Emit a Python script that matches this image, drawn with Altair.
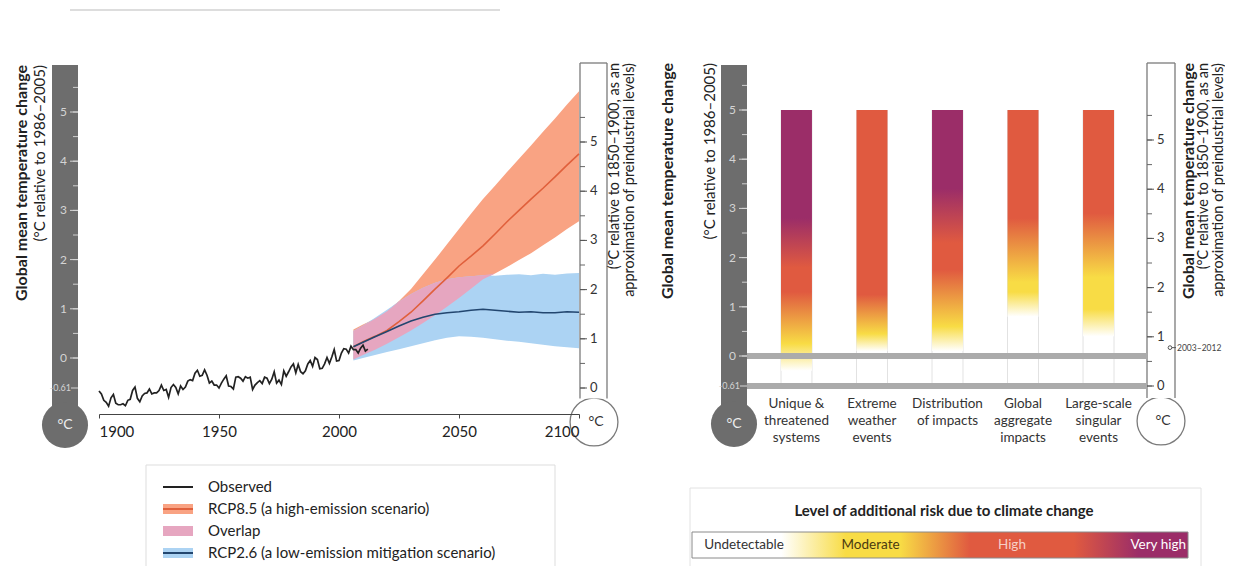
import math
import altair as alt
import pandas as pd
import numpy as np

FONT = "Lato"

# ---------------- data ----------------
obs_years = list(range(1900, 2013))
obs_anomaly = [
    -0.67, -0.73, -0.86, -0.90, -0.98, -0.81, -0.74, -0.92, -0.95, -0.95,
    -0.93, -0.97, -0.86, -0.84, -0.66, -0.59, -0.82, -0.89, -0.77, -0.72,
    -0.71, -0.63, -0.73, -0.71, -0.71, -0.66, -0.55, -0.66, -0.64, -0.80,
    -0.60, -0.54, -0.60, -0.73, -0.57, -0.64, -0.59, -0.47, -0.44, -0.46,
    -0.31, -0.25, -0.37, -0.35, -0.24, -0.35, -0.51, -0.47, -0.55, -0.55,
    -0.61, -0.51, -0.43, -0.36, -0.57, -0.58, -0.63, -0.39, -0.38, -0.41,
    -0.47, -0.38, -0.41, -0.39, -0.64, -0.55, -0.50, -0.46, -0.52, -0.39,
    -0.41, -0.52, -0.43, -0.28, -0.51, -0.45, -0.54, -0.26, -0.37, -0.28,
    -0.18, -0.12, -0.30, -0.13, -0.28, -0.32, -0.26, -0.12, -0.05, -0.17,
    0.01, -0.03, -0.22, -0.21, -0.12, 0.01, -0.11, 0.02, 0.17, -0.06,
    -0.05, 0.10, 0.19, 0.18, 0.10, 0.24, 0.17, 0.17, 0.10, 0.20,
    0.26, 0.14, 0.18,
]

proj_years = [2006, 2010, 2015, 2020, 2025, 2030, 2035, 2040, 2045, 2050,
              2055, 2060, 2065, 2070, 2075, 2080, 2085, 2090, 2095, 2100]
rcp85_mean = [0.23, 0.33, 0.44, 0.56, 0.74, 0.93, 1.16, 1.40, 1.63, 1.87,
              2.07, 2.28, 2.52, 2.77, 3.00, 3.23, 3.45, 3.68, 3.92, 4.15]
rcp85_high = [0.58, 0.68, 0.80, 0.95, 1.16, 1.40, 1.70, 2.00, 2.31, 2.62,
              2.93, 3.23, 3.50, 3.78, 4.05, 4.32, 4.60, 4.87, 5.15, 5.42]
rcp85_low = [-0.03, 0.06, 0.17, 0.29, 0.42, 0.56, 0.71, 0.87, 1.04, 1.22,
             1.41, 1.60, 1.72, 1.85, 1.99, 2.13, 2.29, 2.45, 2.62, 2.78]
rcp26_mean = [0.23, 0.32, 0.43, 0.54, 0.65, 0.75, 0.83, 0.89, 0.92, 0.94,
              0.97, 0.99, 0.97, 0.95, 0.93, 0.94, 0.92, 0.92, 0.94, 0.93]
rcp26_high = [0.55, 0.66, 0.82, 0.98, 1.15, 1.30, 1.43, 1.53, 1.60, 1.64,
              1.66, 1.68, 1.67, 1.69, 1.70, 1.68, 1.71, 1.69, 1.72, 1.73]
rcp26_low = [-0.05, 0.00, 0.06, 0.12, 0.18, 0.24, 0.30, 0.36, 0.41, 0.44,
             0.43, 0.41, 0.38, 0.35, 0.33, 0.30, 0.27, 0.24, 0.22, 0.20]

year_ticks = [1900, 1950, 2000, 2050, 2100]
scale_labels = [0, 1, 2, 3, 4, 5]
scale_half_ticks = [0, 0.5, 1, 1.5, 2, 2.5, 3, 3.5, 4, 4.5, 5, 5.5]
preindustrial_offset = 0.61   # 1986-2005 vs 1850-1900

risk_categories = ["Unique &\nthreatened\nsystems", "Extreme\nweather\nevents",
                   "Distribution\nof impacts", "Global\naggregate\nimpacts",
                   "Large-scale\nsingular\nevents"]
risk_top = 5.0
risk_transitions = [
    [(-0.30, "Undetectable"), (0.25, "Moderate"), (1.30, "High"), (1.80, "High"), (2.80, "Very high")],
    [(0.10, "Undetectable"), (0.45, "Moderate"), (1.25, "High")],
    [(0.10, "Undetectable"), (0.60, "Moderate"), (1.75, "High"), (2.30, "High"), (3.40, "Very high")],
    [(0.80, "Undetectable"), (1.30, "Moderate"), (1.50, "Moderate"), (2.80, "High")],
    [(0.40, "Undetectable"), (0.95, "Moderate"), (1.60, "Moderate"), (2.90, "High")],
]
observed_period = "2003–2012"
observed_period_warming = 0.78  # relative to 1850-1900

risk_levels = ["Undetectable", "Moderate", "High", "Very high"]
risk_level_centers = [0.105, 0.36, 0.645, 0.94]
risk_legend_stops = [(0.0, "Undetectable"), (0.18, "Undetectable"), (0.31, "Moderate"),
                     (0.42, "Moderate"), (0.56, "High"), (0.77, "High"),
                     (0.90, "Very high"), (1.0, "Very high")]

legend_labels = ["Observed", "RCP8.5 (a high-emission scenario)", "Overlap",
                 "RCP2.6 (a low-emission mitigation scenario)"]

# ---------------- styles ----------------
LEVEL_COLOR = {"Undetectable": "#ffffff", "Moderate": "#f8dc45",
               "High": "#e05a40", "Very high": "#9b2d68"}
C85_BAND = "#f9a383"
C26_BAND = "#acd3f3"
C_OVER = "#e6a6c0"
C85_LINE = "#e0603c"
C26_LINE = "#22466f"
C_OBS = "#222222"
GRAY = "#6d6d6d"
OUT = "#7a7a7a"
TXT = "#222222"


def one():
    return pd.DataFrame({"k": [0]})


def gray_thermometer(x0, x1, top, cx, cy, r, ysc):
    base = alt.Chart(one())
    layers = [
        base.mark_rect(color=GRAY).encode(x=alt.value(x0), x2=alt.value(x1),
                                          y=alt.value(top), y2=alt.value(cy)),
        base.mark_circle(color=GRAY, opacity=1).encode(
            x=alt.value(cx), y=alt.value(cy), size=alt.value(math.pi * r * r)),
        base.mark_text(text="°C", color="#eeeeee", fontSize=14, font=FONT).encode(
            x=alt.value(cx), y=alt.value(cy)),
    ]
    half = pd.DataFrame({"v": scale_half_ticks})
    layers.append(alt.Chart(half).mark_rule(color="#cfcfcf", strokeWidth=1).encode(
        y=alt.Y("v:Q", scale=ysc, axis=None), x=alt.value(x1 - 5), x2=alt.value(x1)))
    ints = pd.DataFrame({"v": scale_labels, "t": [str(v) for v in scale_labels]})
    layers.append(alt.Chart(ints).mark_rule(color="#d6d6d6", strokeWidth=1).encode(
        y=alt.Y("v:Q", scale=ysc, axis=None), x=alt.value(x1 - 8), x2=alt.value(x1)))
    layers.append(alt.Chart(ints).mark_text(align="right", baseline="middle", fontSize=12,
                                            font=FONT, color="#d4d4d4").encode(
        y=alt.Y("v:Q", scale=ysc, axis=None), x=alt.value(x1 - 11), text="t:N"))
    base_df = pd.DataFrame({"v": [-preindustrial_offset], "t": [f"-{preindustrial_offset:.2f}"]})
    layers.append(alt.Chart(base_df).mark_rule(color="#d6d6d6", strokeWidth=1).encode(
        y=alt.Y("v:Q", scale=ysc, axis=None), x=alt.value(x1 - 7), x2=alt.value(x1)))
    layers.append(alt.Chart(base_df).mark_text(align="right", baseline="middle", fontSize=9,
                                               font=FONT, color="#d4d4d4").encode(
        y=alt.Y("v:Q", scale=ysc, axis=None), x=alt.value(x1 - 7), text="t:N"))
    return layers


def outline_thermometer(x0, x1, top, cx, cy, r, ysc):
    base = alt.Chart(one())
    half_w = (x1 - x0) / 2
    yjoin = cy - math.sqrt(r * r - half_w * half_w)
    layers = [
        base.mark_circle(fill="white", stroke=OUT, strokeWidth=1.3, opacity=1).encode(
            x=alt.value(cx), y=alt.value(cy), size=alt.value(math.pi * r * r)),
        base.mark_rect(color="white").encode(x=alt.value(x0), x2=alt.value(x1),
                                             y=alt.value(top), y2=alt.value(yjoin)),
        base.mark_rule(color=OUT, strokeWidth=1.3).encode(
            x=alt.value(x0), y=alt.value(top), y2=alt.value(yjoin)),
        base.mark_rule(color=OUT, strokeWidth=1.3).encode(
            x=alt.value(x1), y=alt.value(top), y2=alt.value(yjoin)),
        base.mark_rule(color=OUT, strokeWidth=1.3).encode(
            x=alt.value(x0), x2=alt.value(x1), y=alt.value(top)),
        base.mark_text(text="°C", color="#333333", fontSize=14, font=FONT).encode(
            x=alt.value(cx + 2), y=alt.value(cy)),
    ]
    half = pd.DataFrame({"r": scale_half_ticks})
    layers.append(alt.Chart(half).transform_calculate(
        v=f"datum.r - {preindustrial_offset}").mark_rule(color="#666666", strokeWidth=1).encode(
        y=alt.Y("v:Q", scale=ysc, axis=None), x=alt.value(x0), x2=alt.value(x0 + 5)))
    ints = pd.DataFrame({"r": scale_labels, "t": [str(v) for v in scale_labels]})
    layers.append(alt.Chart(ints).transform_calculate(
        v=f"datum.r - {preindustrial_offset}").mark_rule(color="#555555", strokeWidth=1).encode(
        y=alt.Y("v:Q", scale=ysc, axis=None), x=alt.value(x0), x2=alt.value(x0 + 7)))
    layers.append(alt.Chart(ints).transform_calculate(
        v=f"datum.r - {preindustrial_offset}").mark_text(
        align="left", baseline="middle", fontSize=13, font=FONT, color="#333333").encode(
        y=alt.Y("v:Q", scale=ysc, axis=None), x=alt.value(x0 + 10), text="t:N"))
    return layers


def vtitle(text, x, top, bold=False, size=15):
    return alt.Chart(one()).mark_text(
        text=text, angle=270, align="right", baseline="middle", font=FONT,
        fontSize=size, fontWeight="bold" if bold else "normal", color=TXT).encode(
        x=alt.value(x), y=alt.value(top))


# ---------------- left panel ----------------
YL = alt.Scale(domain=[-1, 6], range=[399.2, 54.8], nice=False, zero=False)
XL = alt.Scale(domain=[1900, 2100], range=[91, 571], nice=False, zero=False)
x_axis = alt.Axis(values=year_ticks, format="d", labelFlush=True, tickSize=4,
                  labelPadding=6, labelFontSize=15, labelFont=FONT, labelColor=TXT,
                  domainColor="#444444", tickColor="#444444", domainWidth=1.2,
                  grid=False, title=None, offset=-152, zindex=2)
XY = alt.X("year:Q", scale=XL, axis=x_axis)

proj = pd.DataFrame({"year": proj_years, "m85": rcp85_mean, "lo85": rcp85_low,
                     "hi85": rcp85_high, "m26": rcp26_mean, "lo26": rcp26_low,
                     "hi26": rcp26_high})
proj["ovlo"] = np.maximum(proj["lo85"], proj["lo26"])
proj["ovhi"] = np.maximum(np.minimum(proj["hi85"], proj["hi26"]), proj["ovlo"])
obs = pd.DataFrame({"year": obs_years, "t": obs_anomaly})

pbase = alt.Chart(proj)
left_layers = []
left_layers += gray_thermometer(44, 70, 57, 57, 417, 26, YL)
left_layers += outline_thermometer(572, 599, 55, 586, 414, 27, YL)
left_layers += [
    pbase.mark_area(color=C85_BAND, opacity=1).encode(
        x=XY, y=alt.Y("lo85:Q", scale=YL, axis=None), y2="hi85:Q"),
    pbase.mark_area(color=C26_BAND, opacity=1).encode(
        x=XY, y=alt.Y("lo26:Q", scale=YL, axis=None), y2="hi26:Q"),
    pbase.mark_area(color=C_OVER, opacity=1).encode(
        x=XY, y=alt.Y("ovlo:Q", scale=YL, axis=None), y2="ovhi:Q"),
    pbase.mark_line(color=C85_LINE, strokeWidth=1.6).encode(
        x=XY, y=alt.Y("m85:Q", scale=YL, axis=None)),
    pbase.mark_line(color=C26_LINE, strokeWidth=1.6).encode(
        x=XY, y=alt.Y("m26:Q", scale=YL, axis=None)),
    alt.Chart(obs).mark_line(color=C_OBS, strokeWidth=1.7).encode(
        x=XY, y=alt.Y("t:Q", scale=YL, axis=None)),
    vtitle("Global mean temperature change", 14, 57, bold=True, size=16),
    vtitle("(°C relative to 1986–2005)", 32, 57, size=15),
    vtitle("(°C relative to 1850–1900, as an", 607, 55, size=14.5),
    vtitle("approximation of preindustrial levels)", 622, 55, size=14.5),
]
left_group = alt.layer(*left_layers)

# ---------------- right panel ----------------
YR = alt.Scale(domain=[-1, 6], range=[397.2, 52.8], nice=False, zero=False)
XR = alt.Scale(type="band", domain=risk_categories, range=[773, 1106],
               paddingInner=0.59, paddingOuter=0)

right_layers = []
right_layers += gray_thermometer(713, 739, 57, 726, 416, 26, YR)
right_layers += outline_thermometer(1139, 1167, 55, 1153, 413, 27, YR)

edges = pd.DataFrame({"cat": risk_categories, "lo": [-preindustrial_offset] * 5,
                      "hi": [risk_top] * 5})
for bp in (0, 1):
    right_layers.append(alt.Chart(edges).mark_rule(color="#e2e2e2", strokeWidth=1).encode(
        x=alt.X("cat:N", scale=XR, axis=None, bandPosition=bp),
        y=alt.Y("lo:Q", scale=YR, axis=None), y2="hi:Q"))

for cat, trans in zip(risk_categories, risk_transitions):
    lo = trans[0][0]
    stops = [alt.GradientStop(offset=(t - lo) / (risk_top - lo), color=LEVEL_COLOR[lv])
             for t, lv in trans]
    stops.append(alt.GradientStop(offset=1, color=LEVEL_COLOR[trans[-1][1]]))
    grad = alt.LinearGradient(gradient="linear", stops=stops, x1=0, x2=0, y1=1, y2=0)
    bdf = pd.DataFrame({"cat": [cat], "lo": [lo], "hi": [risk_top]})
    right_layers.append(alt.Chart(bdf).mark_bar(fill=grad).encode(
        x=alt.X("cat:N", scale=XR, axis=None),
        y=alt.Y("lo:Q", scale=YR, axis=None), y2="hi:Q"))

bands = pd.DataFrame({"v": [0.0, -preindustrial_offset]})
right_layers.append(alt.Chart(bands).transform_calculate(
    a="datum.v - 0.06", b="datum.v + 0.06").mark_rect(color="#ababab").encode(
    x=alt.value(739), x2=alt.value(1139),
    y=alt.Y("a:Q", scale=YR, axis=None), y2="b:Q"))

labels_df = pd.DataFrame({"cat": risk_categories})
right_layers.append(alt.Chart(labels_df).mark_text(
    lineBreak="\n", baseline="top", align="center", fontSize=13.5, lineHeight=17,
    font=FONT, color="#333333").encode(
    x=alt.X("cat:N", scale=XR, axis=None), y=alt.value(389), text="cat:N"))

per = pd.DataFrame({"r": [observed_period_warming], "t": [observed_period]})
per_base = alt.Chart(per).transform_calculate(v=f"datum.r - {preindustrial_offset}")
right_layers += [
    per_base.mark_rule(color="#555555", strokeWidth=1).encode(
        y=alt.Y("v:Q", scale=YR, axis=None), x=alt.value(1162), x2=alt.value(1168)),
    per_base.mark_point(shape="circle", size=14, fill="white", stroke="#555555",
                        strokeWidth=1, opacity=1, filled=False).encode(
        y=alt.Y("v:Q", scale=YR, axis=None), x=alt.value(1162)),
    per_base.mark_text(align="left", baseline="middle", fontSize=8.5, font=FONT,
                       color="#444444").encode(
        y=alt.Y("v:Q", scale=YR, axis=None), x=alt.value(1169), text="t:N"),
    vtitle("Global mean temperature change", 660, 55, bold=True, size=16),
    vtitle("(°C relative to 1986–2005)", 702, 55, size=15),
    vtitle("Global mean temperature change", 1181, 55, bold=True, size=16),
    vtitle("(°C relative to 1850–1900, as an", 1196, 55, size=14.5),
    vtitle("approximation of preindustrial levels)", 1211, 55, size=14.5),
]
right_group = alt.layer(*right_layers)

# ---------------- left legend ----------------
LY = alt.Scale(type="point", domain=legend_labels, range=[479, 545], padding=0)
leg = pd.DataFrame({"label": legend_labels})
band_leg = leg[leg["label"] != "Observed"]
line_leg = leg[leg["label"] != "Overlap"]
leg_layers = [
    alt.Chart(one()).mark_rect(fill=None, stroke="#dddddd", strokeWidth=1).encode(
        x=alt.value(138), x2=alt.value(547), y=alt.value(457), y2=alt.value(600)),
    alt.Chart(one()).mark_rule(color="#bbbbbb", strokeWidth=1).encode(
        x=alt.value(62), x2=alt.value(492), y=alt.value(2)),
    alt.Chart(band_leg).mark_tick(orient="horizontal", size=30, thickness=10, opacity=1).encode(
        x=alt.value(170), y=alt.Y("label:N", scale=LY, axis=None),
        color=alt.Color("label:N", scale=alt.Scale(
            domain=legend_labels[1:], range=[C85_BAND, C_OVER, C26_BAND]), legend=None)),
    alt.Chart(line_leg).mark_tick(orient="horizontal", size=30, thickness=2, opacity=1).encode(
        x=alt.value(170), y=alt.Y("label:N", scale=LY, axis=None),
        color=alt.Color("label:N", scale=alt.Scale(
            domain=[legend_labels[0], legend_labels[1], legend_labels[3]],
            range=[C_OBS, C85_LINE, C26_LINE]), legend=None)),
    alt.Chart(leg).mark_text(align="left", baseline="middle", fontSize=15, font=FONT,
                             color=TXT).encode(
        x=alt.value(200), y=alt.Y("label:N", scale=LY, axis=None), text="label:N"),
]
legend_left = alt.layer(*leg_layers).resolve_scale(color="independent")

# ---------------- right legend ----------------
RX = alt.Scale(domain=[0, 1], range=[684, 1180], nice=False, zero=False)
rgrad = alt.LinearGradient(
    gradient="linear", x1=0, x2=1, y1=0, y2=0,
    stops=[alt.GradientStop(offset=o, color=LEVEL_COLOR[lv]) for o, lv in risk_legend_stops])
lev = pd.DataFrame({"label": risk_levels, "pos": risk_level_centers})
rleg_layers = [
    alt.Chart(one()).mark_rect(fill=None, stroke="#e2e2e2", strokeWidth=1).encode(
        x=alt.value(682), x2=alt.value(1193), y=alt.value(480), y2=alt.value(600)),
    alt.Chart(one()).mark_text(text="Level of additional risk due to climate change",
                               fontSize=15, fontWeight="bold", font=FONT, color=TXT,
                               align="center", baseline="middle").encode(
        x=alt.value(936), y=alt.value(503)),
    alt.Chart(one()).mark_rect(fill=rgrad, stroke="#8a8a8a", strokeWidth=1).encode(
        x=alt.value(684), x2=alt.value(1180), y=alt.value(524), y2=alt.value(550)),
    alt.Chart(lev).mark_text(align="center", baseline="middle", fontSize=13.5,
                             font=FONT).encode(
        x=alt.X("pos:Q", scale=RX, axis=None), y=alt.value(537), text="label:N",
        color=alt.Color("label:N", scale=alt.Scale(
            domain=risk_levels, range=["#333333", "#4a3a10", "#f6cfc6", "#ffffff"]),
            legend=None)),
]
legend_right = alt.layer(*rleg_layers)

chart = alt.layer(left_group, right_group, legend_left, legend_right).resolve_scale(
    x="independent", y="independent", color="independent"
).properties(
    width=1217, height=558, padding=0,
    autosize=alt.AutoSizeParams(type="none"),
    background="white",
).configure_view(stroke=None)

chart.save("out.html", embed_options={"renderer": "svg", "actions": False})
